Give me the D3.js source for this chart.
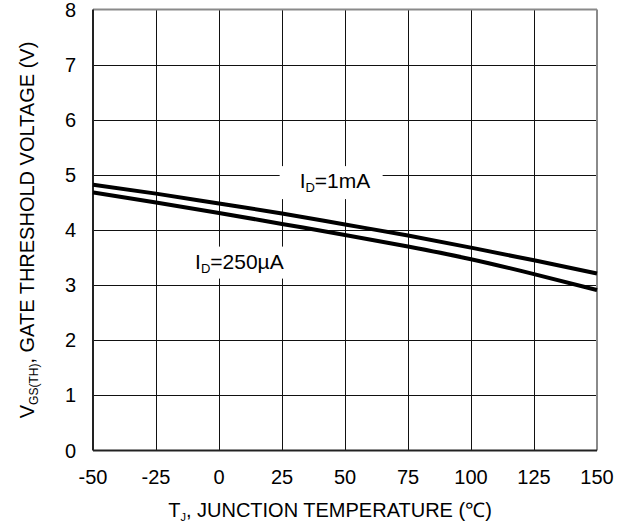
<!DOCTYPE html>
<html>
<head>
<meta charset="utf-8">
<script src="https://cdn.jsdelivr.net/npm/d3@7"></script>
<style>
  body { margin: 0; background: #fff; }
  svg { display: block; font-family: "Liberation Sans", Arial, sans-serif; }
</style>
</head>
<body>
<svg id="chart" width="634" height="527"></svg>
<script>
// temperature points (deg C)
var temps = [-50, -25, 0, 25, 50, 75, 100, 125, 150];
// gate threshold voltage
var vth1mA = [4.82, 4.66, 4.48, 4.30, 4.10, 3.90, 3.68, 3.45, 3.21];
var vth250uA = [4.68, 4.50, 4.31, 4.11, 3.91, 3.70, 3.47, 3.20, 2.91];
var xTicks = [-50, -25, 0, 25, 50, 75, 100, 125, 150];
var yTicks = [0, 1, 2, 3, 4, 5, 6, 7, 8];

var svg = d3.select("#chart");
// note: "top" is taken by window.top, so plot edges get their own names
var plotL = 93, plotR = 597, plotT = 9.5, plotB = 450.5;

var x = d3.scaleLinear().domain([-50, 150]).range([plotL, plotR]);
var y = d3.scaleLinear().domain([0, 8]).range([plotB, plotT]);

// grid
svg.append("g")
    .selectAll("line")
    .data(xTicks.slice(1, -1))
    .enter()
    .append("line")
    .attr("x1", d => Math.round(x(d)) + 0.5)
    .attr("x2", d => Math.round(x(d)) + 0.5)
    .attr("y1", plotT)
    .attr("y2", plotB)
    .attr("stroke", "#111")
    .attr("stroke-width", 1);

svg.append("g")
    .selectAll("line")
    .data(yTicks.slice(1, -1))
    .enter()
    .append("line")
    .attr("x1", plotL)
    .attr("x2", plotR)
    .attr("y1", d => Math.round(y(d)) + 0.5)
    .attr("y2", d => Math.round(y(d)) + 0.5)
    .attr("stroke", "#111")
    .attr("stroke-width", 1);

// frame: top/right are grey, left/bottom dark
svg.append("line").attr("x1", plotL).attr("x2", plotR).attr("y1", plotT).attr("y2", plotT)
    .attr("stroke", "#8a8a8a").attr("stroke-width", 2);
svg.append("line").attr("x1", plotR).attr("x2", plotR).attr("y1", plotT).attr("y2", plotB)
    .attr("stroke", "#8a8a8a").attr("stroke-width", 2);
svg.append("line").attr("x1", plotL).attr("x2", plotL).attr("y1", plotT).attr("y2", plotB)
    .attr("stroke", "#222").attr("stroke-width", 2);
svg.append("line").attr("x1", plotL).attr("x2", plotR).attr("y1", plotB).attr("y2", plotB)
    .attr("stroke", "#222").attr("stroke-width", 2);

// label boxes hide the grid behind the curve labels
function label(t, v, sub, rest, box) {
    svg.append("rect")
        .attr("x", x(t) - box[0])
        .attr("y", y(v) - box[1])
        .attr("width", box[2])
        .attr("height", box[3])
        .attr("fill", "#fff");
    var txt = svg.append("text")
        .attr("x", x(t))
        .attr("y", y(v))
        .attr("font-size", 21)
        .attr("fill", "#000");
    txt.append("tspan").text("I");
    txt.append("tspan").attr("font-size", 13).attr("dy", 4).text(sub);
    txt.append("tspan").attr("dy", -4).text(rest);
}
label(32, 4.76, "D", "=1mA", [20, 22, 103, 33]);
label(-9.5, 3.30, "D", "=250\u00b5A", [12, 22, 112, 32]);

// curves
var line = d3.line()
    .x((d, i) => x(temps[i]))
    .y(d => y(d))
    .curve(d3.curveMonotoneX);

[vth1mA, vth250uA].forEach(function(s) {
    svg.append("path")
        .attr("d", line(s))
        .attr("fill", "none")
        .attr("stroke", "#000")
        .attr("stroke-width", 4);
});

// tick labels
svg.append("g")
    .selectAll("text")
    .data(xTicks)
    .enter()
    .append("text")
    .attr("x", d => x(d))
    .attr("y", 484)
    .attr("text-anchor", "middle")
    .attr("font-size", 20)
    .text(d => d);

svg.append("g")
    .selectAll("text")
    .data(yTicks)
    .enter()
    .append("text")
    .attr("x", 76)
    .attr("y", d => y(d) + 7)
    .attr("text-anchor", "end")
    .attr("font-size", 20)
    .text(d => d);

// axis titles
var xt = svg.append("text")
    .attr("x", 330)
    .attr("y", 517)
    .attr("text-anchor", "middle")
    .attr("font-size", 20);
xt.append("tspan").text("T");
xt.append("tspan").attr("font-size", 11).attr("dy", 4).text("J");
xt.append("tspan").attr("dy", -4).text(", JUNCTION TEMPERATURE (\u2103)");

var yt = svg.append("text")
    .attr("transform", "translate(34," + (plotT + plotB) / 2 + ") rotate(-90)")
    .attr("text-anchor", "middle")
    .attr("font-size", 20);
yt.append("tspan").text("V");
yt.append("tspan").attr("font-size", 12).attr("dy", 4).text("GS(TH)");
yt.append("tspan").attr("dy", -4).text(", GATE THRESHOLD VOLTAGE (V)");
</script>
</body>
</html>
